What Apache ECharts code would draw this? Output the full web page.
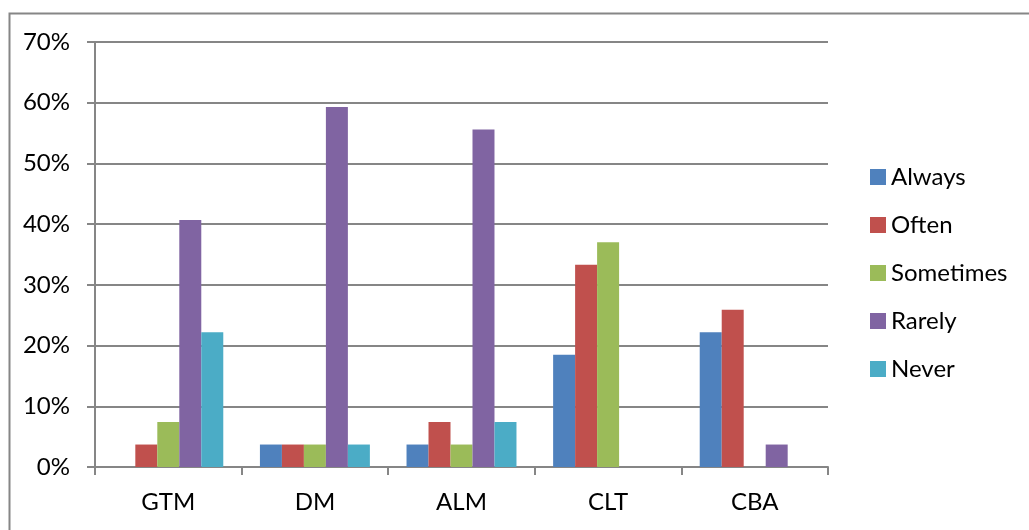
<!DOCTYPE html>
<html>
<head>
<meta charset="utf-8">
<script src="https://cdn.jsdelivr.net/npm/echarts@6/dist/echarts.min.js"></script>
<style>
html,body{margin:0;padding:0;background:#fff;}
#chart{width:1029px;height:530px;}
</style>
</head>
<body>
<div id="chart"></div>
<script>
const categories = ['GTM', 'DM', 'ALM', 'CLT', 'CBA'];
const always    = [0,    3.7, 3.7, 18.5, 22.2];
const often     = [3.7,  3.7, 7.4, 33.3, 25.9];
const sometimes = [7.4,  3.7, 3.7, 37.0, 0];
const rarely    = [40.7, 59.3, 55.6, 0,  3.7];
const never     = [22.2, 3.7, 7.4, 0,    0];
const seriesNames = ['Always', 'Often', 'Sometimes', 'Rarely', 'Never'];
const seriesData = [always, often, sometimes, rarely, never];
const colors = ['#4F81BD', '#C0504D', '#9BBB59', '#8064A2', '#4BACC6'];

const FONT = 'Lato';
const chart = echarts.init(document.getElementById('chart'), null, {renderer: 'canvas'});
chart.setOption({
  animation: false,
  color: colors,
  textStyle: {fontFamily: FONT},
  graphic: [{
    type: 'rect', left: 7, top: 11, silent: true,
    shape: {width: 1200, height: 700},
    style: {fill: 'none', stroke: '#868686', lineWidth: 2}
  }],
  grid: {left: 95, right: 201, top: 42, bottom: 63},
  legend: {
    orient: 'vertical', left: 865, top: 160,
    itemWidth: 16, itemHeight: 16, itemGap: 24, itemTextGap: 7, icon: 'rect',
    textStyle: {fontFamily: FONT, fontSize: 24, color: '#000'},
    data: seriesNames
  },
  xAxis: {
    type: 'category', data: categories,
    axisLine: {lineStyle: {color: '#868686', width: 2}},
    axisTick: {show: true, length: 8, lineStyle: {color: '#868686', width: 2}},
    axisLabel: {fontFamily: FONT, fontSize: 24, color: '#000', margin: 23}
  },
  yAxis: {
    type: 'value', min: 0, max: 70, interval: 10,
    axisLine: {show: true, lineStyle: {color: '#868686', width: 2}},
    axisTick: {show: true, length: 8, lineStyle: {color: '#868686', width: 2}},
    splitLine: {lineStyle: {color: '#868686', width: 2}},
    axisLabel: {fontFamily: FONT, fontSize: 24, color: '#000', margin: 25, formatter: v => v + '%'}
  },
  series: seriesNames.map((n, i) => ({
    name: n, type: 'bar', data: seriesData[i],
    barGap: '0%', barCategoryGap: '25%'
  }))
});
</script>
</body>
</html>
